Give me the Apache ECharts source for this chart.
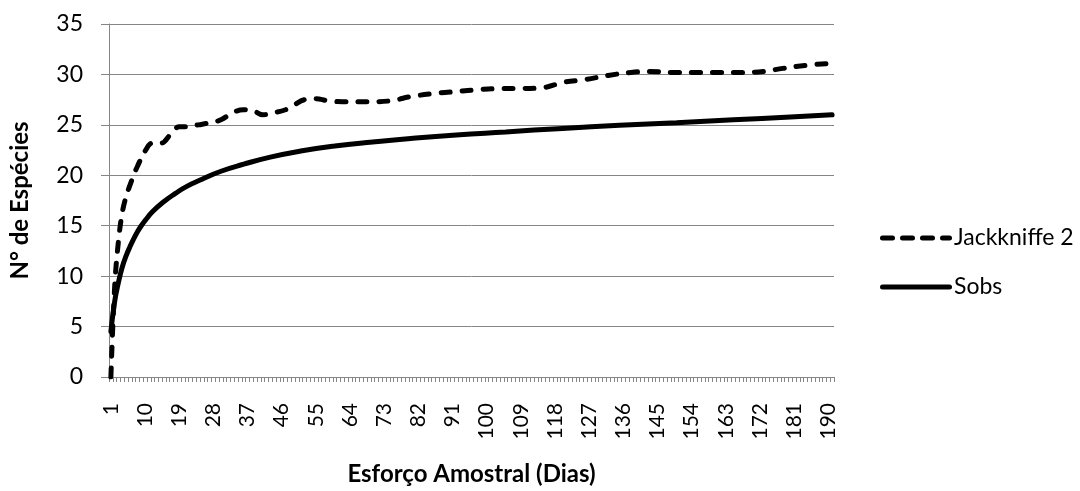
<!DOCTYPE html>
<html>
<head>
<meta charset="utf-8">
<script src="https://cdn.jsdelivr.net/npm/echarts@6/dist/echarts.min.js"></script>
<style>html,body{margin:0;padding:0;background:#fff}#c{width:1080px;height:491px}</style>
</head>
<body>
<div id="c"></div>
<script>
// Days 1..191 (category axis)
const days = [1,2,3,4,5,6,7,8,9,10,11,12,13,14,15,16,17,18,19,20,21,22,23,24,25,26,27,28,29,30,
31,32,33,34,35,36,37,38,39,40,41,42,43,44,45,46,47,48,49,50,51,52,53,54,55,56,57,58,59,60,
61,62,63,64,65,66,67,68,69,70,71,72,73,74,75,76,77,78,79,80,81,82,83,84,85,86,87,88,89,90,
91,92,93,94,95,96,97,98,99,100,101,102,103,104,105,106,107,108,109,110,111,112,113,114,115,116,117,118,119,120,
121,122,123,124,125,126,127,128,129,130,131,132,133,134,135,136,137,138,139,140,141,142,143,144,145,146,147,148,149,150,
151,152,153,154,155,156,157,158,159,160,161,162,163,164,165,166,167,168,169,170,171,172,173,174,175,176,177,178,179,180,
181,182,183,184,185,186,187,188,189,190,191];
const categories = days.map(String);

// Jackknife 2 readings: [day, species]
const jackDays = [1,2,3,4,5,6,7,8,10,12,14,15,17,19,21,24,27,30,33,36,39,41,44,47,49,52,55,58,62,66,70,75,80,86,92,98,104,109,115,120,126,132,138,143,149,155,161,167,173,178,184,191];
const jackVals = [0,9,13.5,16.3,17.9,19.0,20.0,20.9,22.4,23.2,23.2,23.3,24.2,24.8,24.8,25.0,25.2,25.5,26.2,26.5,26.3,26.0,26.2,26.5,26.9,27.5,27.6,27.4,27.3,27.3,27.3,27.4,27.8,28.1,28.3,28.5,28.6,28.6,28.7,29.2,29.5,29.9,30.2,30.3,30.2,30.2,30.2,30.2,30.3,30.6,30.9,31.1];

// Sobs readings: [day, species]
const sobsDays = [1,2,3,4,5,6,7,8,9,10,12,15,18,21,25,30,36,43,51,60,70,80,92,105,120,135,150,165,180,191];
const sobsVals = [4.5,7.5,9.4,10.9,12.0,12.9,13.7,14.4,15.0,15.5,16.4,17.4,18.2,18.9,19.6,20.4,21.1,21.8,22.4,22.9,23.3,23.65,24.0,24.3,24.65,24.95,25.22,25.5,25.78,26.0];

const yTicks = [0,5,10,15,20,25,30,35];

const FONT = 'Lato';
const dashIcon = 'path://M2.5,0h10a2.5,2.5 0 0 1 0,5h-10a2.5,2.5 0 0 1 0,-5z M22.5,0h10a2.5,2.5 0 0 1 0,5h-10a2.5,2.5 0 0 1 0,-5z M42.5,0h10a2.5,2.5 0 0 1 0,5h-10a2.5,2.5 0 0 1 0,-5z M62.5,0h7a2.5,2.5 0 0 1 0,5h-7a2.5,2.5 0 0 1 0,-5z';
const solidIcon = 'path://M2.5,0h67a2.5,2.5 0 0 1 0,5h-67a2.5,2.5 0 0 1 0,-5z';

const chart = echarts.init(document.getElementById('c'), null, {renderer:'canvas'});
chart.setOption({
  animation: false,
  backgroundColor: '#fff',
  textStyle: {fontFamily: FONT, color: '#000'},
  grid: {left: 108, right: 246, top: 24, bottom: 114, containLabel: false},
  legend: {
    orient: 'vertical', left: 875, top: 221,
    itemWidth: 72, itemHeight: 5, itemGap: 25,
    textStyle: {fontFamily: FONT, fontSize: 23, color: '#000', lineHeight: 24, padding: [0,0,0,-3]},
    data: [{name: 'Jackkniffe 2', icon: dashIcon}, {name: 'Sobs', icon: solidIcon}]
  },
  xAxis: {
    type: 'category',
    data: categories,
    boundaryGap: true,
    name: 'Esforço Amostral (Dias)',
    nameLocation: 'middle',
    nameGap: 85,
    nameMoveOverlap: false,
    nameTextStyle: {fontFamily: FONT, fontSize: 24, fontWeight: 'bold', color: '#000'},
    axisLine: {show: true, lineStyle: {color: '#868686', width: 1}},
    axisTick: {show: true, interval: 0, length: 5, lineStyle: {color: '#868686'}},
    axisLabel: {interval: 8, rotate: 90, margin: 26, fontFamily: FONT, fontSize: 21, color: '#000'},
    splitLine: {show: false}
  },
  yAxis: {
    type: 'value',
    min: 0, max: 35, interval: 5,
    name: 'N° de Espécies',
    nameLocation: 'middle',
    nameGap: 77,
    nameMoveOverlap: false,
    nameTextStyle: {fontFamily: FONT, fontSize: 24, fontWeight: 'bold', color: '#000'},
    axisLine: {show: true, lineStyle: {color: '#868686', width: 1}},
    axisTick: {show: true, length: 8, lineStyle: {color: '#868686'}},
    axisLabel: {margin: 26, fontFamily: FONT, fontSize: 23, color: '#000',
      formatter: v => yTicks.includes(v) ? String(v) : ''},
    splitLine: {show: true, lineStyle: {color: '#868686', width: 1}}
  },
  series: [
    {
      name: 'Jackkniffe 2', type: 'line',
      data: jackDays.map((d, i) => [String(d), jackVals[i]]),
      smooth: 0.4,
      showSymbol: false, symbol: 'none',
      lineStyle: {color: '#000', width: 5, type: [9, 12], cap: 'round'},
      itemStyle: {color: '#000'}
    },
    {
      name: 'Sobs', type: 'line',
      data: sobsDays.map((d, i) => [String(d), sobsVals[i]]),
      smooth: 0.5,
      showSymbol: false, symbol: 'none',
      lineStyle: {color: '#000', width: 5, type: 'solid', cap: 'round'},
      itemStyle: {color: '#000'}
    }
  ]
});
</script>
</body>
</html>
